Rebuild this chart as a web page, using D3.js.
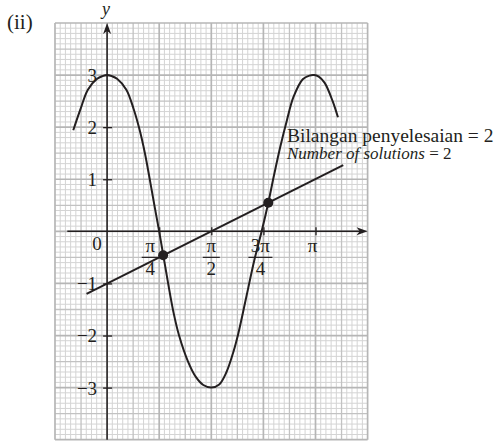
<!DOCTYPE html>
<html>
<head>
<meta charset="utf-8">
<script src="https://cdn.jsdelivr.net/npm/d3@7"></script>
<style>
  body { margin: 0; background: #fff; }
  svg { display: block; }
  text { font-family: "Liberation Serif", "Times New Roman", serif; fill: #231f20; }
</style>
</head>
<body>
<svg id="chart" width="498" height="441"></svg>
<script>
const PI = Math.PI;

// y = 3 cos 2x, sampled along the drawn curve (x in radians)
const curveX = [-0.51, -0.40, -0.29, -0.15, -0.07, 0, 0.07, 0.15, 0.29, 0.40, 0.49, 0.57, 0.65, 0.72, 0.785, 0.85, 0.92, 1.00, 1.085,
                1.22, 1.34, 1.45, 1.571, 1.69, 1.80, 1.90, 1.98, 2.10, 2.22, 2.33, 2.43, 2.52, 2.61, 2.71, 2.81, 2.95, 3.05, 3.12,
                3.19, 3.28, 3.40, 3.48];
const curveY = [1.94, 2.35, 2.72, 2.93, 2.98, 3, 2.98, 2.93, 2.72, 2.35, 1.95, 1.50, 0.95, 0.45, 0, -0.48, -1.00, -1.55, -2.00,
                -2.50, -2.80, -2.95, -3, -2.94, -2.70, -2.33, -1.95, -1.25, -0.55, 0, 0.55, 1.10, 1.62, 2.13, 2.58, 2.92, 2.99, 3,
                2.97, 2.85, 2.50, 2.19];

// straight line y = 2x/π − 1 (end points)
const lineX = [-0.31, 3.56];
const lineY = [-1.2, 1.27];

// points of intersection
const solX = [0.845, 2.43];
const solY = [-0.46, 0.55];

const yTickValues = [-3, -2, -1, 1, 2, 3];
const xTickValues = [PI / 4, PI / 2, 3 * PI / 4, PI];
const xTickNumerators = ["π", "π", "3π", "π"];
const xTickDenominators = ["4", "2", "4", ""];

const partLabel = "(ii)";
const noteMalay = "Bilangan penyelesaian = 2";
const noteEnglish = "Number of solutions";
const noteEnglishValue = " = 2";

const svg = d3.select("#chart");
const ink = "#231f20";

const x = d3.scaleLinear().domain([-PI / 4, 5 * PI / 4]).range([55, 367.6]);
const y = d3.scaleLinear().domain([-4, 4]).range([439.7, 23]);

// ---- graph paper ----
const grid = svg.append("g");
const vLines = d3.range(-10, 51).map(i => ({ v: i * PI / 40, level: i % 10 === 0 ? 2 : (i % 5 === 0 ? 1 : 0) }));
const hLines = d3.range(-40, 41).map(j => ({ v: j / 10, level: j % 10 === 0 ? 2 : (j % 5 === 0 ? 1 : 0) }));
const gridStyle = [
  { stroke: "#d4d4d4", width: 1 },
  { stroke: "#c2c2c2", width: 1.3 },
  { stroke: "#b6b6b6", width: 1.7 }
];
[0, 1, 2].forEach(level => {
  const s = gridStyle[level];
  grid.selectAll(null).data(vLines.filter(d => d.level === level)).join("line")
    .attr("x1", d => x(d.v)).attr("x2", d => x(d.v))
    .attr("y1", y(4)).attr("y2", y(-4))
    .attr("stroke", s.stroke).attr("stroke-width", s.width);
  grid.selectAll(null).data(hLines.filter(d => d.level === level)).join("line")
    .attr("y1", d => y(d.v)).attr("y2", d => y(d.v))
    .attr("x1", x(-PI / 4)).attr("x2", x(5 * PI / 4))
    .attr("stroke", s.stroke).attr("stroke-width", s.width);
});

// ---- axes ----
const x0 = x(0), y0 = y(0);

// y-axis line with arrow
svg.append("line")
  .attr("x1", x0).attr("x2", x0).attr("y1", y(-4)).attr("y2", y(4) + 6)
  .attr("stroke", ink).attr("stroke-width", 1.5);
svg.append("path")
  .attr("d", `M${x0},${y(4)} L${x0 - 4},${y(4) + 11} L${x0},${y(4) + 8} L${x0 + 4},${y(4) + 11} Z`)
  .attr("fill", ink);

// x-axis line with arrow
const xAxisStart = x(-0.6);
const xAxisEnd = x(5 * PI / 4);
svg.append("line")
  .attr("x1", xAxisStart).attr("x2", xAxisEnd - 6).attr("y1", y0).attr("y2", y0)
  .attr("stroke", ink).attr("stroke-width", 1.5);
svg.append("path")
  .attr("d", `M${xAxisEnd},${y0} L${xAxisEnd - 11},${y0 - 4} L${xAxisEnd - 8},${y0} L${xAxisEnd - 11},${y0 + 4} Z`)
  .attr("fill", ink);

// y ticks and labels
const yAxis = d3.axisLeft(y)
  .tickValues(yTickValues)
  .tickSize(4)
  .tickPadding(6)
  .tickFormat(d => d < 0 ? "−" + Math.abs(d) : String(d));
const gy = svg.append("g").attr("transform", `translate(${x0},0)`).call(yAxis);
gy.select(".domain").remove();
gy.selectAll(".tick line").attr("x1", 5).attr("stroke", ink).attr("stroke-width", 1.3);
gy.selectAll(".tick text")
  .attr("font-size", 19).attr("font-family", "Liberation Serif, Times New Roman, serif")
  .attr("fill", ink).attr("dy", "0.34em");

// x ticks
const xAxis = d3.axisBottom(x).tickValues(xTickValues).tickSize(4).tickFormat("");
const gx = svg.append("g").attr("transform", `translate(0,${y0})`).call(xAxis);
gx.select(".domain").remove();
gx.selectAll(".tick line").attr("y1", -4).attr("stroke", ink).attr("stroke-width", 1.3);

// fraction labels under the x-axis
const labelNudge = [-9, 0, -3, -3];
const fractions = svg.append("g");
xTickValues.forEach((v, i) => {
  const cx = x(v) + labelNudge[i];
  const g = fractions.append("g").attr("transform", `translate(${cx},${y0})`);
  g.append("text").attr("text-anchor", "middle").attr("y", 21).attr("font-size", 19).text(xTickNumerators[i]);
  if (xTickDenominators[i]) {
    const w = xTickNumerators[i].length > 1 ? 12 : 8.5;
    g.append("line").attr("x1", -w).attr("x2", w).attr("y1", 26).attr("y2", 26)
      .attr("stroke", ink).attr("stroke-width", 1.2);
    g.append("text").attr("text-anchor", "middle").attr("y", 44).attr("font-size", 19).text(xTickDenominators[i]);
  }
});

// origin label
svg.append("text").attr("x", x0 - 10).attr("y", y0 + 19).attr("text-anchor", "middle")
  .attr("font-size", 19).text("0");

// axis name
svg.append("text").attr("x", x0 - 1).attr("y", 15).attr("text-anchor", "middle")
  .attr("font-size", 18).attr("font-style", "italic").text("y");

// part label
svg.append("text").attr("x", 7).attr("y", 29).attr("font-size", 21).text(partLabel);

// ---- curve, line and intersections ----
const curvePts = curveX.map((v, i) => [v, curveY[i]]);
const linePts = lineX.map((v, i) => [v, lineY[i]]);
const path = d3.line().x(d => x(d[0])).y(d => y(d[1]));

svg.append("path").datum(linePts)
  .attr("d", path).attr("fill", "none").attr("stroke", ink).attr("stroke-width", 2);

svg.append("path").datum(curvePts)
  .attr("d", path.curve(d3.curveCatmullRom.alpha(0.5)))
  .attr("fill", "none").attr("stroke", ink).attr("stroke-width", 2);

svg.selectAll(".sol").data(solX.map((v, i) => [v, solY[i]])).join("circle")
  .attr("class", "sol")
  .attr("cx", d => x(d[0])).attr("cy", d => y(d[1])).attr("r", 5)
  .attr("fill", ink);

// ---- note ----
svg.append("text").attr("x", 287).attr("y", 141.5).attr("font-size", 19.5).text(noteMalay);
const note2 = svg.append("text").attr("x", 287).attr("y", 159).attr("font-size", 17);
note2.append("tspan").attr("font-style", "italic").text(noteEnglish);
note2.append("tspan").text(noteEnglishValue);
</script>
</body>
</html>
